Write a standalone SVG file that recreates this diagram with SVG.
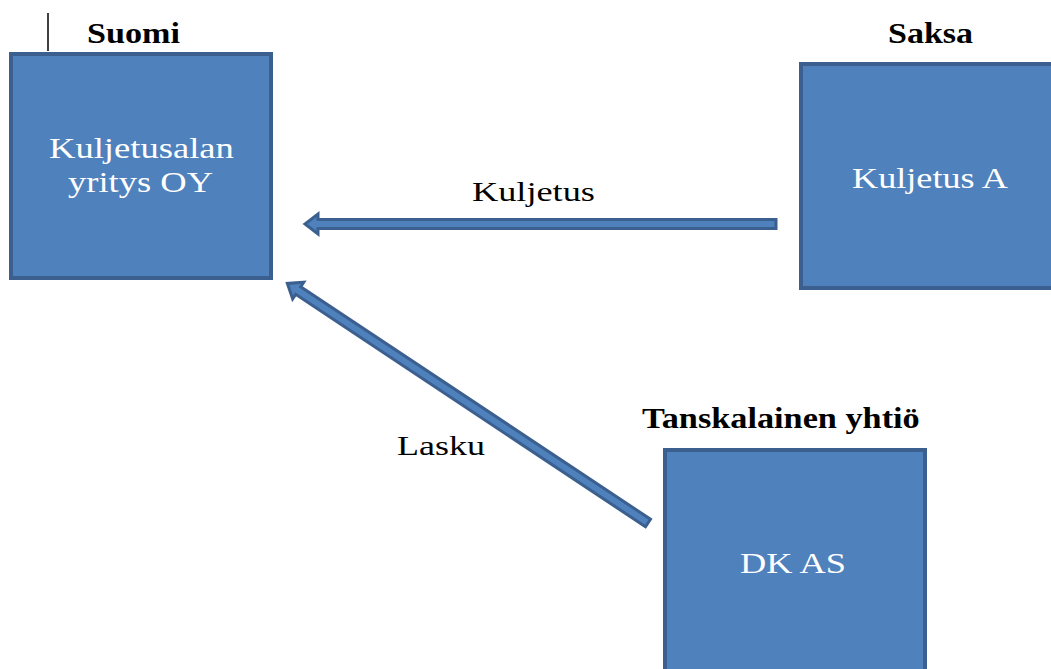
<svg xmlns="http://www.w3.org/2000/svg" width="1051" height="669" viewBox="0 0 1051 669">
  <style>
    .box { fill: #4f81bd; stroke: #3b5f8e; stroke-width: 4; }
    .arrow { fill: #4f81bd; stroke: #3b5f8e; stroke-width: 3; stroke-linejoin: miter; }
  </style>
  <defs>
    <!-- block arrows pointing along +x, tail at origin -->
    <polygon id="arrowA" points="0,-4.5 458,-4.5 458,-10 471,0 458,10 458,4.5 0,4.5"/>
    <polygon id="arrowB" points="0,-4.5 420,-4.5 420,-10 433,0 420,10 420,4.5 0,4.5"/>
  </defs>
  <rect width="1051" height="669" fill="#ffffff"/>

  <!-- small vertical mark -->
  <line x1="48" y1="13" x2="48" y2="51" stroke="#000" stroke-width="1.5"/>

  <g id="connectors">
    <use href="#arrowA" class="arrow" transform="translate(776,224) rotate(180)"/>
    <use href="#arrowB" class="arrow" transform="translate(648,523) rotate(213.6)"/>
    <text font-family="Liberation Serif" font-size="28" fill="#000" transform="translate(472,201) scale(1.296,1)">Kuljetus</text>
    <text font-family="Liberation Serif" font-size="28" fill="#000" transform="translate(397,455) scale(1.286,1)">Lasku</text>
  </g>

  <g id="node-suomi">
    <text font-family="Liberation Serif" font-size="29" font-weight="bold" fill="#000" transform="translate(87,43) scale(1.177,1)">Suomi</text>
    <rect class="box" x="11" y="54" width="260" height="224"/>
    <text font-family="Liberation Serif" font-size="29" fill="#fff" transform="translate(49,158) scale(1.262,1)">Kuljetusalan</text>
    <text font-family="Liberation Serif" font-size="29" fill="#fff" transform="translate(68,192) scale(1.259,1)">yritys OY</text>
  </g>

  <g id="node-saksa">
    <text font-family="Liberation Serif" font-size="29" font-weight="bold" fill="#000" transform="translate(888,43) scale(1.172,1)">Saksa</text>
    <rect class="box" x="801" y="64" width="260" height="224"/>
    <text font-family="Liberation Serif" font-size="29" fill="#fff" transform="translate(852,188) scale(1.249,1)">Kuljetus A</text>
  </g>

  <g id="node-tanska">
    <text font-family="Liberation Serif" font-size="29" font-weight="bold" fill="#000" transform="translate(642,428) scale(1.182,1)">Tanskalainen yhtiö</text>
    <rect class="box" x="665" y="450" width="260" height="226"/>
    <text font-family="Liberation Serif" font-size="29" fill="#fff" transform="translate(740,573) scale(1.253,1)">DK AS</text>
  </g>
</svg>
